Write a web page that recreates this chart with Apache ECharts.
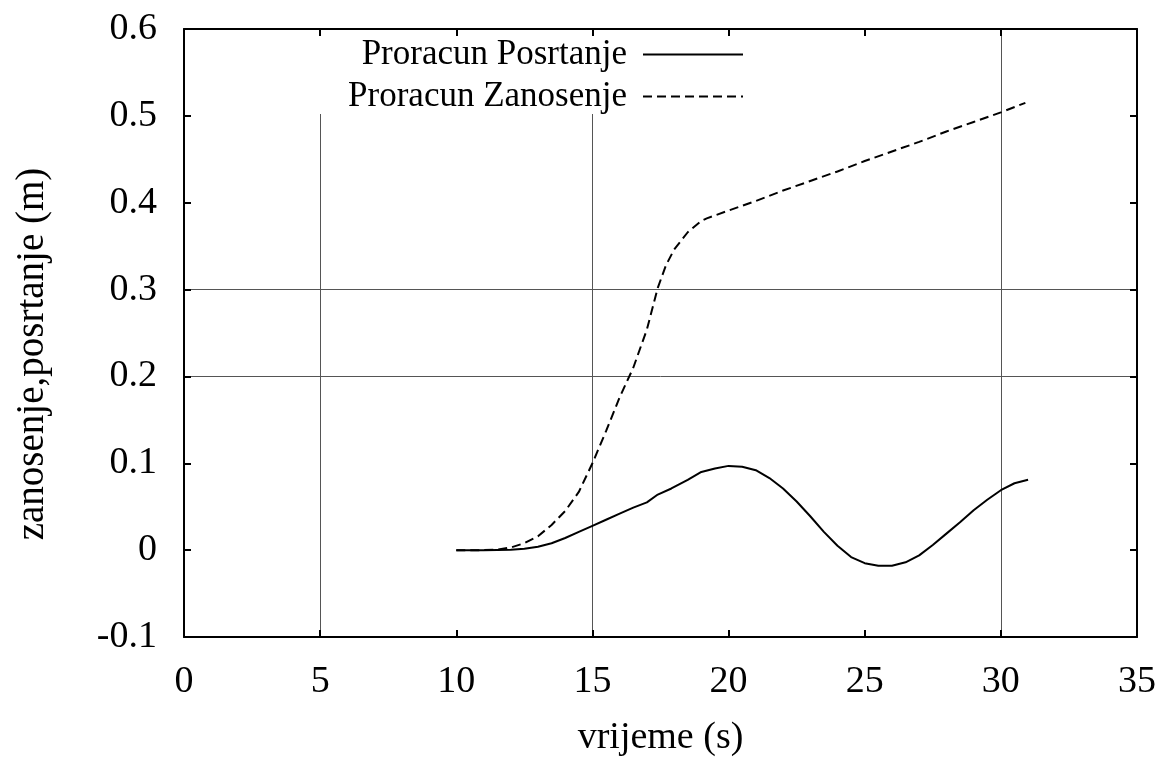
<!DOCTYPE html>
<html>
<head>
<meta charset="utf-8">
<script src="https://cdn.jsdelivr.net/npm/echarts@6/dist/echarts.min.js"></script>
<style>
  html, body { margin: 0; padding: 0; background: #fff; }
  #chart { width: 1163px; height: 762px; }
</style>
</head>
<body>
<div id="chart"></div>
<script>
// Time axis samples (s) and computed responses (m)
const posrtanjeT = [10, 11, 12, 12.5, 13, 13.5, 14, 14.5, 15, 15.5, 16, 16.5, 17, 17.4, 17.9,
  18.5, 19, 19.5, 20, 20.5, 21, 21.5, 22, 22.5, 23, 23.5, 24, 24.5, 25, 25.5, 26, 26.5,
  27, 27.5, 28, 28.5, 29, 29.5, 30, 30.5, 31];
const posrtanjeV = [0, 0, 0.0005, 0.0015, 0.004, 0.008, 0.014, 0.021, 0.028, 0.035, 0.042, 0.049,
  0.055, 0.064, 0.071, 0.081, 0.09, 0.094, 0.097, 0.096, 0.092, 0.083, 0.071, 0.056, 0.039,
  0.021, 0.005, -0.008, -0.015, -0.018, -0.018, -0.014, -0.006, 0.006, 0.019, 0.032, 0.046,
  0.058, 0.069, 0.077, 0.081];

const zanosenjeT = [10, 11, 11.5, 12, 12.5, 13, 13.5, 14, 14.5, 15, 15.5, 16, 16.5, 17, 17.4,
  17.7, 18, 18.5, 19, 19.2, 20, 21, 22, 23, 24, 25, 26, 27, 28, 29, 30, 30.9];
const zanosenjeV = [0, 0, 0.0005, 0.003, 0.008, 0.016, 0.029, 0.045, 0.067, 0.1, 0.137, 0.176,
  0.21, 0.254, 0.302, 0.328, 0.346, 0.366, 0.379, 0.382, 0.391, 0.402, 0.414, 0.425, 0.436,
  0.448, 0.459, 0.47, 0.482, 0.493, 0.504, 0.515];

const seriesNames = ['Proracun Posrtanje', 'Proracun Zanosenje'];
const xTitle = 'vrijeme (s)';
const yTitle = 'zanosenje,posrtanje (m)';

const FONT = 'Liberation Serif';
const pair = (xs, ys) => xs.map((x, i) => [x, ys[i]]);

// grid lines are drawn only at x = 5, 15, 30 and y = 0.2, 0.3
const gridCol = '#555';
const xGridColors = ['transparent', gridCol, 'transparent', gridCol, 'transparent', 'transparent', gridCol, 'transparent'];
const yGridColors = ['transparent', 'transparent', 'transparent', gridCol, gridCol, 'transparent', 'transparent', 'transparent'];

const axisLine = { show: true, onZero: false, lineStyle: { color: '#000', width: 2 } };
const innerTick = { show: true, inside: true, length: 7, lineStyle: { color: '#000', width: 2 } };

const chart = echarts.init(document.getElementById('chart'), null, { renderer: 'canvas' });
chart.setOption({
  backgroundColor: '#fff',
  animation: false,
  grid: { left: 184, right: 26, top: 29, bottom: 121, containLabel: false },
  legend: {
    orient: 'vertical',
    right: 415,
    top: 29,
    z: 3,
    align: 'right',
    itemWidth: 100,
    itemHeight: 14,
    itemGap: 7,
    padding: [8, 4, 0, 40],
    backgroundColor: '#fff',
    // key samples show only the line, no marker
    itemStyle: { opacity: 0 },
    textStyle: { fontFamily: FONT, fontSize: 35, color: '#000', padding: [0, 11, 0, 0] },
    data: seriesNames
  },
  xAxis: [{
    type: 'value', position: 'bottom', min: 0, max: 35, interval: 5, z: 0,
    name: xTitle, nameLocation: 'middle', nameGap: 82,
    nameTextStyle: { fontFamily: FONT, fontSize: 38, color: '#000' },
    axisLine: axisLine, axisTick: innerTick,
    axisLabel: { fontFamily: FONT, fontSize: 38, color: '#000', margin: 26 },
    splitLine: { show: true, lineStyle: { color: xGridColors, width: 1 } }
  }, {
    type: 'value', position: 'top', min: 0, max: 35, interval: 5, z: 5,
    axisLine: axisLine, axisTick: innerTick,
    axisLabel: { show: false }, splitLine: { show: false }
  }],
  yAxis: [{
    type: 'value', position: 'left', min: -0.1, max: 0.6, interval: 0.1, z: 0,
    name: yTitle, nameLocation: 'middle', nameGap: 132, nameRotate: 90,
    nameTextStyle: { fontFamily: FONT, fontSize: 39, color: '#000', padding: [0, 42, 0, 0] },
    axisLine: axisLine, axisTick: innerTick,
    axisLabel: { fontFamily: FONT, fontSize: 38, color: '#000', margin: 27 },
    splitLine: { show: true, lineStyle: { color: yGridColors, width: 1 } }
  }, {
    type: 'value', position: 'right', min: -0.1, max: 0.6, interval: 0.1, z: 5,
    axisLine: axisLine, axisTick: innerTick,
    axisLabel: { show: false }, splitLine: { show: false }
  }],
  series: [{
    name: seriesNames[0], type: 'line', xAxisIndex: 0, yAxisIndex: 0,
    data: pair(posrtanjeT, posrtanjeV),
    symbol: 'none', smooth: false,
    lineStyle: { color: '#000', width: 2, type: 'solid' },
    itemStyle: { color: '#000' }
  }, {
    name: seriesNames[1], type: 'line', xAxisIndex: 0, yAxisIndex: 0,
    data: pair(zanosenjeT, zanosenjeV),
    symbol: 'none', smooth: false,
    lineStyle: { color: '#000', width: 2, type: [9, 5] },
    itemStyle: { color: '#000' }
  }]
});
</script>
</body>
</html>
